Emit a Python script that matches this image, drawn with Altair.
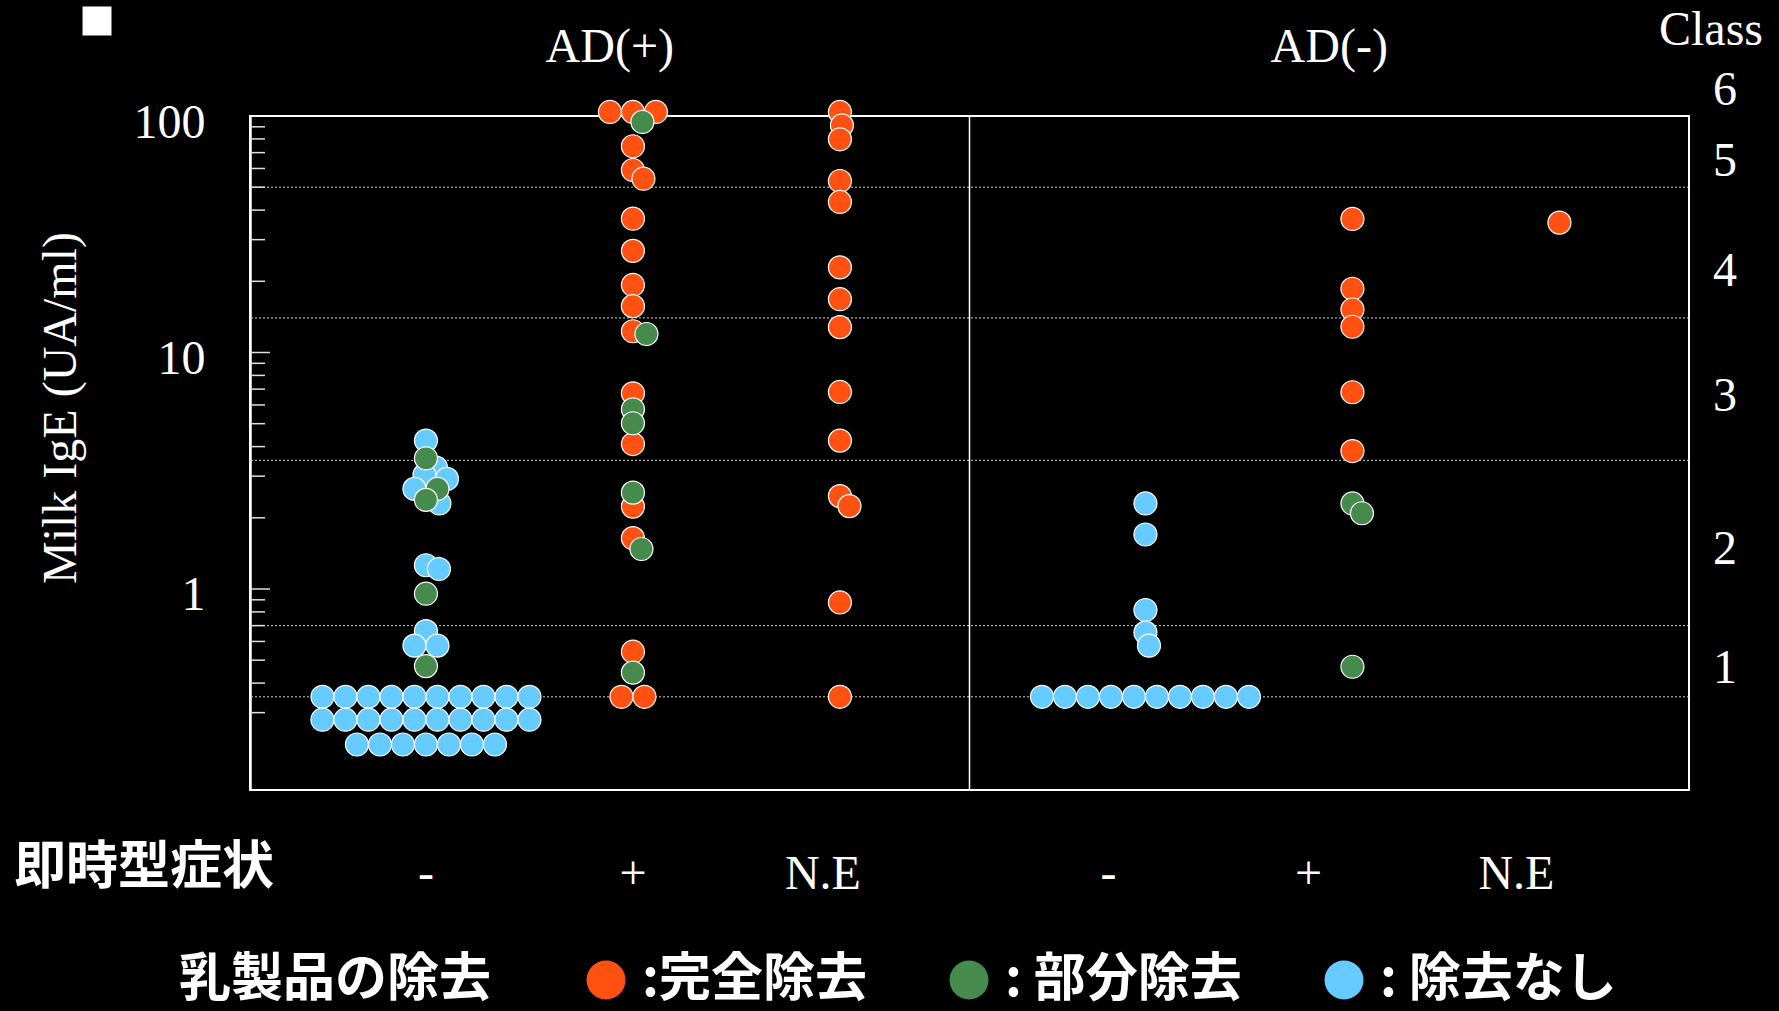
import math
from collections import defaultdict

import altair as alt
import pandas as pd

# ---------------------------------------------------------------- data
AD_GROUPS = ["AD(+)", "AD(-)"]
SYMPTOMS = ["-", "+", "N.E"]
REMOVAL = ["完全除去", "部分除去", "除去なし"]
REMOVAL_COLORS = ["#FF5112", "#468B4D", "#66CCFF"]

# Milk IgE (UA/ml), one list per AD status / immediate-type symptom / dairy removal
adpos_minus_none = [
    4.24, 3.26, 3.03, 2.92, 2.65, 2.30, 1.26, 1.215, 0.664, 0.576, 0.576,
    0.35, 0.35, 0.35, 0.35, 0.35, 0.35, 0.35, 0.35, 0.35, 0.35,
    0.28, 0.28, 0.28, 0.28, 0.28, 0.28, 0.28, 0.28, 0.28, 0.28,
    0.22, 0.22, 0.22, 0.22, 0.22, 0.22, 0.22,
]
adpos_minus_partial = [3.57, 2.65, 2.38, 0.955, 0.472]

adpos_plus_complete = [
    104, 104, 104, 74.5, 59.1, 54.3, 36.8, 26.9, 19.3, 15.7, 12.3,
    6.72, 4.10, 2.23, 1.64, 0.543, 0.35, 0.35,
]
adpos_plus_partial = [94.4, 11.97, 5.75, 5.02, 2.555, 1.476, 0.443]

adpos_ne_complete = [
    104, 91.3, 79.7, 53.1, 43.3, 22.9, 16.8, 12.8, 6.81, 4.24, 2.47, 2.24,
    0.877, 0.35,
]

adneg_minus_none = [
    2.30, 1.70, 0.815, 0.654, 0.576,
    0.35, 0.35, 0.35, 0.35, 0.35, 0.35, 0.35, 0.35, 0.35, 0.35,
]
adneg_plus_complete = [36.7, 18.6, 15.2, 12.85, 6.79, 3.83]
adneg_plus_partial = [2.30, 2.09, 0.469]
adneg_ne_complete = [35.4]

GROUPS = [
    ("AD(+)", "-", "除去なし", adpos_minus_none),
    ("AD(+)", "-", "部分除去", adpos_minus_partial),
    ("AD(+)", "+", "完全除去", adpos_plus_complete),
    ("AD(+)", "+", "部分除去", adpos_plus_partial),
    ("AD(+)", "N.E", "完全除去", adpos_ne_complete),
    ("AD(-)", "-", "除去なし", adneg_minus_none),
    ("AD(-)", "+", "完全除去", adneg_plus_complete),
    ("AD(-)", "+", "部分除去", adneg_plus_partial),
    ("AD(-)", "N.E", "完全除去", adneg_ne_complete),
]

# IgE class boundaries (dotted lines) and where each class number sits
CLASS_BOUNDS = [0.35, 0.7, 3.5, 14, 50]
CLASS_NAMES = ["1", "2", "3", "4", "5", "6"]
CLASS_LABEL_AT = [0.46, 1.46, 6.5, 22, 64, 128]

Y_LABELS = [1, 10, 100]
MAJOR_TICKS = [1, 10]
MINOR_TICKS = [0.3, 0.4, 0.5, 0.6, 0.7, 0.8, 0.9,
               2, 3, 4, 5, 6, 7, 8, 9,
               20, 30, 40, 50, 60, 70, 80, 90]

# ---------------------------------------------------------------- layout
W, H = 1439, 674
Y_MIN, Y_MAX = 10 ** -0.85, 100
PANEL_SPAN = 3.476          # width of one AD panel, in category steps
LEFT_PAD = 0.85             # space before the first category of a panel
X_MIN = -LEFT_PAD
X_MAX = 2 * PANEL_SPAN - LEFT_PAD
PX_PER_X = W / (X_MAX - X_MIN)
PX_PER_DECADE = H / (math.log10(Y_MAX) - math.log10(Y_MIN))
DOT = 23                    # dot diameter in px
ROW_STEP = 23               # spacing of dots sharing one value
MIN_DIST = 13.5             # allowed overlap between neighbouring dots

SERIF = "Liberation Serif"
CJK = "Noto Sans CJK JP"
DRAW_ORDER = ["完全除去", "除去なし", "部分除去"]


def ypx(v):
    return (math.log10(Y_MAX) - math.log10(v)) * PX_PER_DECADE


def swarm(vals):
    """Horizontal pixel offsets: equal values form a centred row,
    others stay on the column unless they collide with a neighbour."""
    ys = [ypx(v) for v in vals]
    offs = [None] * len(vals)
    placed = []
    same = defaultdict(list)
    for i, v in enumerate(vals):
        same[v].append(i)
    for idx in same.values():
        if len(idx) > 1:
            for k, i in enumerate(idx):
                offs[i] = (k - (len(idx) - 1) / 2) * ROW_STEP
                placed.append((ys[i], offs[i]))
    cands = sorted({0.0} | {s * k * 0.5 for k in range(1, 400) for s in (1, -1)},
                   key=lambda c: (abs(c), -c))
    for i in sorted([i for i in range(len(vals)) if offs[i] is None], key=lambda i: ys[i]):
        for c in cands:
            if all(math.hypot(c - px, ys[i] - py) >= MIN_DIST for py, px in placed):
                offs[i] = c
                break
        placed.append((ys[i], offs[i]))
    return offs


def cat_x(ad, sym):
    return AD_GROUPS.index(ad) * PANEL_SPAN + SYMPTOMS.index(sym)


rows = []
for ad in AD_GROUPS:
    for sym in SYMPTOMS:
        pts = []
        for rem in DRAW_ORDER:
            for g_ad, g_sym, g_rem, vals in GROUPS:
                if (g_ad, g_sym, g_rem) == (ad, sym, rem):
                    pts += [(rem, v) for v in vals]
        if not pts:
            continue
        offs = swarm([v for _, v in pts])
        for (rem, v), o in zip(pts, offs):
            rows.append({"ad": ad, "symptom": sym, "removal": rem, "value": v,
                         "xpos": cat_x(ad, sym) + o / PX_PER_X})
points = pd.DataFrame(rows)
points["order"] = points["removal"].map(DRAW_ORDER.index)
points = points.sort_values("order", kind="stable")

# category labels under each column (slightly nudged, px)
LABEL_NUDGE = {("AD(+)", "N.E"): -17, ("AD(-)", "-"): -37,
               ("AD(-)", "+"): -44, ("AD(-)", "N.E"): -43}
cat_labels = pd.DataFrame([
    {"label": s, "xpos": cat_x(a, s) + LABEL_NUDGE.get((a, s), 0) / PX_PER_X}
    for a in AD_GROUPS for s in SYMPTOMS
])
headers = pd.DataFrame([
    {"label": a, "xpos": i * PANEL_SPAN - LEFT_PAD + PANEL_SPAN / 2}
    for i, a in enumerate(AD_GROUPS)
])
divider = pd.DataFrame({"xpos": [PANEL_SPAN - LEFT_PAD]})
grid = pd.DataFrame({"value": CLASS_BOUNDS})
minor = pd.DataFrame({"value": MINOR_TICKS})
major = pd.DataFrame({"value": MAJOR_TICKS})
classes = pd.DataFrame({"value": CLASS_LABEL_AT, "label": CLASS_NAMES})

# ---------------------------------------------------------------- encodings
x_scale = alt.Scale(domain=[X_MIN, X_MAX], nice=False, zero=False)
y_scale = alt.Scale(type="log", domain=[Y_MIN, Y_MAX], nice=False)
y_axis = alt.Axis(values=Y_LABELS, format="~g", title=None, grid=False,
                  ticks=False, tickSize=0, domainColor="white", domainWidth=2.5,
                  labelFont=SERIF, labelFontSize=48, labelColor="white",
                  labelPadding=45, labelOffset=7, labelOverlap=False)
X = alt.X("xpos:Q", scale=x_scale, axis=None)
Y = alt.Y("value:Q", scale=y_scale, axis=y_axis)

gridlines = alt.Chart(grid).mark_rule(
    color="#D0D0D0", strokeWidth=1, strokeDash=[2, 2]
).encode(y=Y)

minor_ticks = alt.Chart(minor).mark_rule(color="#E0E0E0", strokeWidth=1.5).encode(
    y=Y, x=alt.value(0), x2=alt.value(15))
major_ticks = alt.Chart(major).mark_rule(color="#E0E0E0", strokeWidth=1.5).encode(
    y=Y, x=alt.value(0), x2=alt.value(20))

divider_rule = alt.Chart(divider).mark_rule(color="white", strokeWidth=1.5).encode(x=X)

dots = alt.Chart(points).mark_circle(
    size=DOT * DOT, opacity=1, stroke="white", strokeWidth=1.2
).encode(
    x=X, y=Y,
    color=alt.Color(
        "removal:N",
        scale=alt.Scale(domain=REMOVAL, range=REMOVAL_COLORS),
        legend=alt.Legend(
            orient="none", legendX=-71, legendY=838, direction="horizontal",
            title="乳製品の除去", titleOrient="left", titleFont=CJK,
            titleFontSize=52, titleFontWeight="bold", titleColor="white",
            titlePadding=88, titleLimit=600, titleBaseline="middle",
            labelFont=CJK, labelFontSize=52, labelFontWeight="bold",
            labelColor="white", labelLimit=600, labelOffset=10,
            labelExpr="datum.label == '完全除去' ? ':' + datum.label : ': ' + datum.label",
            symbolType="circle", symbolSize=1521, symbolStrokeWidth=0,
            symbolOpacity=1, columnPadding=76,
        ),
    ),
    order=alt.Order("order:Q"),
)

header_text = alt.Chart(headers).mark_text(
    font=SERIF, fontSize=48, color="white", baseline="alphabetic"
).encode(x=X, y=alt.value(-54), text="label:N")

cat_text = alt.Chart(cat_labels).mark_text(
    font=SERIF, fontSize=48, color="white", baseline="middle"
).encode(x=X, y=alt.value(759), text="label:N")

class_text = alt.Chart(classes).mark_text(
    font=SERIF, fontSize=48, color="white", baseline="middle"
).encode(y=Y, x=alt.value(1475), text="label:N")

class_title = alt.Chart(pd.DataFrame({"label": ["Class"]})).mark_text(
    font=SERIF, fontSize=48, color="white", baseline="alphabetic"
).encode(x=alt.value(1461), y=alt.value(-71), text="label:N")

y_title = alt.Chart(pd.DataFrame({"label": ["Milk IgE (UA/ml)"]})).mark_text(
    font=SERIF, fontSize=48, color="white", angle=270, baseline="middle"
).encode(x=alt.value(-188), y=alt.value(292), text="label:N")

symptom_title = alt.Chart(pd.DataFrame({"label": ["即時型症状"]})).mark_text(
    font=CJK, fontSize=52, fontWeight="bold", color="white",
    align="left", baseline="middle"
).encode(x=alt.value(-236), y=alt.value(752), text="label:N")

bullet = alt.Chart(pd.DataFrame({"label": ["■"]})).mark_square(
    size=841, color="white", opacity=1, filled=True
).encode(x=alt.value(-153), y=alt.value(-95))

chart = alt.layer(
    gridlines, minor_ticks, major_ticks, divider_rule, dots,
    header_text, cat_text, class_text, class_title, y_title,
    symptom_title, bullet,
).properties(
    width=W, height=H,
    autosize=alt.AutoSizeParams(type="none"),
    padding={"left": 250, "top": 116, "right": 90, "bottom": 221},
).configure(
    background="black"
).configure_view(
    stroke="white", strokeWidth=2
)

chart.save("out.html", embed_options={"renderer": "svg", "actions": False})
